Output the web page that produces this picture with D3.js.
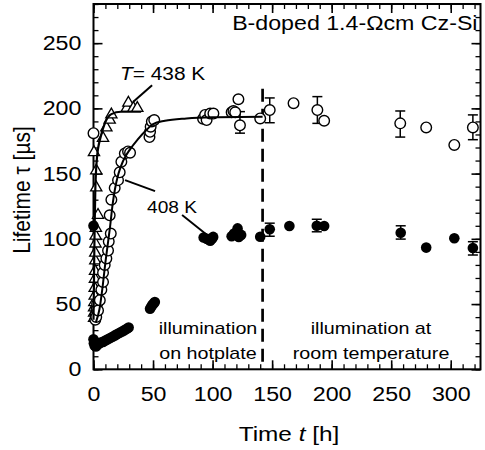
<!DOCTYPE html>
<html><head><meta charset="utf-8">
<script src="https://cdn.jsdelivr.net/npm/d3@7"></script>
<style>body{margin:0;background:#fff}svg{display:block}text{font-family:"Liberation Sans",Arial,sans-serif;fill:#000}</style>
</head><body><svg id="c" width="485" height="450"></svg>
<script>
// ---- data (t in h, tau in µs) ----
const xTicks = [0,50,100,150,200,250,300];
const yTicks = [0,50,100,150,200,250];
// 438 K open triangles
const tri438T = [0.5,0.5,0.5,0.7,1,1,1.2,1.3,1.5,1.5,1.7,1.8,2,3.8,2.3,2.3,0.4,8,10.8,13.6,15,28,29.3,33.5,36.8];
const tri438V = [40,44,48,52,57,63,70,76,84,90,97,103,109,119,140,153,167,178,186,192,196,201,205,201,201];
// 408 K open circles (hotplate)
const c408T = [0,1.5,2,2.5,3,2.3,3.8,5.3,6.6,8,8,9.4,10.8,12.2,12.8,14.5,13.6,15,17.8,20.6,22,23.4,26.3,29,30.7,47,47.5,48,49,51,
               92,93.7,95,98,100.7,116,117.5,119,121.7,123,140];
const c408V = [181,38,42,46,50,40,45,53,61,67,74,80,85,91,98,104,118,130,139,145,151,159,165.5,167,166,178,182,186,190,191,
               192,195,191,196,196,197,198,197,207,187,192.3];
// open circles, room temperature
const cRoomT = [148,168,188,193.7,257.6,279.4,303,318.6];
const cRoomV = [198.7,204,198.7,190.5,188.5,185.4,172,185.4];
// error bars on open circles
const cErrT = [123,148,188,257.6,318.6];
const cErrLo = [181,189,188.5,178,176];
const cErrHi = [197.5,208,209,198,195];
// filled circles
const fT = [0,0,0.3,1,2,3,4.5,6,8,10,12,14,16,18,20,22,24,26,28,29.5,
            47.5,48.5,49.5,50.5,51.5,
            92.5,95,97,98,99.5,100.5,116,118,121,122,124,140,
            148,164.5,187.5,193.7,258,279.4,303,318.6];
const fV = [110,23,20,18,17.5,18.5,19.5,20.5,21,22,23,24,25,26,27,28,29,30,31,32,
            46.5,48,49.5,50.5,51.5,
            101,100,99.5,98.5,100,101.5,102,104,108,101.5,103,101.6,
            107.3,109.8,110,109.8,104.7,93.3,100.4,93];
const fErrT = [148,187.5,258,318.6];
const fErrLo = [102,105.4,99.8,87.6];
const fErrHi = [112,115,110,97.8];
// fit curves
const fit438T = [0,0.3,0.6,1,1.5,3,6,9.5,15,23,40];
const fit438V = [38,60,85,112,137,163,178,188.5,195.6,197.4,197.4];
const fit408T = [2,5,8,10,12,14,16,18,21,25,31,37,44,50,60,78,100,142];
const fit408V = [36,46,66,82,96,110,126,138,150,160,169,176,183,188,190.5,192.3,193.2,193.6];
const tSwitch = 142;

// ---- layout ----
const svg = d3.select("#c");
const x = d3.scaleLinear().domain([0,325]).range([93.5,480.5]);
const y = d3.scaleLinear().domain([0,280]).range([369.3,4]);
const SX = 1.16, FS = 20;

function label(x0,y0,parts,anchor,size,rot){
  const t = svg.append("text")
    .attr("transform",`translate(${x0},${y0}) scale(${SX},1)`+(rot?` rotate(${rot})`:""))
    .attr("text-anchor",anchor||"start").attr("font-size",size||FS);
  parts.forEach(p=>{
    const s = t.append("tspan").text(p.s||p);
    if(p.i) s.attr("font-style","italic");
  });
  return t;
}

// ---- axes ----
const xMinor = d3.range(0,326,10), yMinor = d3.range(0,281,10);
function frame(){
  const g = svg.append("g");
  [[d3.axisBottom(x), `translate(0,${y(0)})`, xMinor],
   [d3.axisTop(x), `translate(0,${y(280)})`, xMinor],
   [d3.axisLeft(y), `translate(${x(0)},0)`, yMinor],
   [d3.axisRight(y), `translate(${x(325)},0)`, yMinor]].forEach(([a,tr,mn])=>{
    const gm = g.append("g").attr("transform",tr).call(a.tickValues(mn).tickSize(-5).tickFormat("").tickSizeOuter(0));
    gm.select(".domain").remove();
    gm.selectAll("line").attr("stroke","#000").attr("stroke-width",1.3);
  });
  [[d3.axisBottom(x).tickValues(xTicks).tickSize(-9).tickSizeOuter(0).tickPadding(18), `translate(0,${y(0)})`],
   [d3.axisTop(x).tickValues(xTicks).tickSize(-9).tickSizeOuter(0).tickFormat(""), `translate(0,${y(280)})`],
   [d3.axisLeft(y).tickValues(yTicks).tickSize(-9).tickSizeOuter(0).tickPadding(10.5), `translate(${x(0)},0)`],
   [d3.axisRight(y).tickValues(yTicks).tickSize(-9).tickSizeOuter(0).tickFormat(""), `translate(${x(325)},0)`]].forEach(([a,tr])=>{
    const gm = g.append("g").attr("transform",tr).call(a);
    gm.select(".domain").remove();
    gm.selectAll("line").attr("stroke","#000").attr("stroke-width",1.6);
    gm.selectAll("text").attr("font-size",FS).attr("font-family","Liberation Sans, Arial, sans-serif")
      .attr("fill","#000").attr("transform",`scale(${SX},1)`);
  });
  g.append("rect").attr("x",x(0)).attr("y",y(280)).attr("width",x(325)-x(0)).attr("height",y(0)-y(280))
    .attr("fill","none").attr("stroke","#000").attr("stroke-width",2);
}
frame();

// dashed separator
svg.append("line").attr("x1",x(tSwitch)).attr("x2",x(tSwitch)).attr("y1",y(215)).attr("y2",y(0))
  .attr("stroke","#000").attr("stroke-width",2.7).attr("stroke-dasharray","13,7");

// error bars
function errs(T,L,H){
  T.forEach((t,i)=>{
    const g = svg.append("g").attr("stroke","#000").attr("stroke-width",1.5);
    g.append("line").attr("x1",x(t)).attr("x2",x(t)).attr("y1",y(L[i])).attr("y2",y(H[i]));
    [L[i],H[i]].forEach(v=>g.append("line").attr("x1",x(t)-5).attr("x2",x(t)+5).attr("y1",y(v)).attr("y2",y(v)));
  });
}
errs(cErrT,cErrLo,cErrHi);
errs(fErrT,fErrLo,fErrHi);

const R = 5.3;
svg.append("g").selectAll("path").data(tri438T.map((t,i)=>[t,tri438V[i]])).join("path")
  .attr("transform",d=>`translate(${x(d[0])},${y(d[1])+1})`)
  .attr("d",d3.symbol(d3.symbolTriangle,55))
  .attr("fill","#fff").attr("stroke","#000").attr("stroke-width",1.3);
svg.append("g").selectAll("circle").data(c408T.map((t,i)=>[t,c408V[i]]).concat(cRoomT.map((t,i)=>[t,cRoomV[i]]))).join("circle")
  .attr("cx",d=>x(d[0])).attr("cy",d=>y(d[1])).attr("r",R)
  .attr("fill","#fff").attr("stroke","#000").attr("stroke-width",1.4);

const line = d3.line().x(d=>x(d[0])).y(d=>y(d[1])).curve(d3.curveMonotoneX);
svg.append("path").attr("d",line(fit438T.map((t,i)=>[t,fit438V[i]]))).attr("fill","none").attr("stroke","#000").attr("stroke-width",2.2);
svg.append("path").attr("d",line(fit408T.map((t,i)=>[t,fit408V[i]]))).attr("fill","none").attr("stroke","#000").attr("stroke-width",2);

svg.append("g").selectAll("circle").data(fT.map((t,i)=>[t,fV[i]])).join("circle")
  .attr("cx",d=>x(d[0])).attr("cy",d=>y(d[1])).attr("r",R).attr("fill","#000");

function pointer(t1,v1,t2,v2){
  svg.append("line").attr("x1",x(t1)).attr("y1",y(v1)).attr("x2",x(t2)).attr("y2",y(v2))
    .attr("stroke","#000").attr("stroke-width",2);
}
pointer(49.2,217.8,33.2,204.8);
pointer(26.5,145,51.7,136.6);
pointer(74.4,118.2,95.4,102.9);

label(x(325)-3,30,["B-doped 1.4-Ωcm Cz-Si"],"end");
label(120,80,[{s:"T",i:true},"= 438 K"],"start",18);
label(147,213,["408 K"],"start",16.5);
label(208,334,["illumination"],"middle",17);
label(208,359,["on hotplate"],"middle",17);
label(371,334,["illumination at"],"middle",17);
label(371,359,["room temperature"],"middle",17);
label(289,441,["Time ",{s:"t",i:true}," [h]"],"middle",21);
label(30,190,["Lifetime τ [µs]"],"middle",21,-90);
</script></body></html>
